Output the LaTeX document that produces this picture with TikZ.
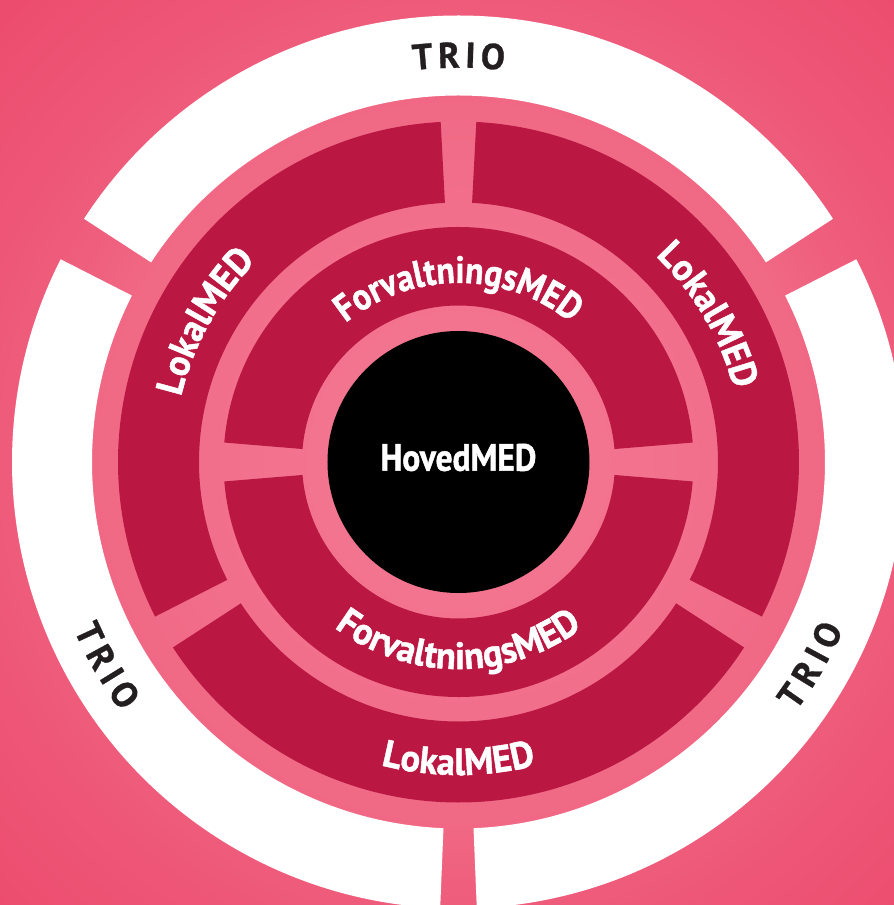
\documentclass[tikz,border=0pt]{standalone}
\usepackage{fontspec}
\newfontfamily\medfont{PT Sans}[FakeStretch=0.88,FakeBold=1.2]
\newfontfamily\lokalfont{PT Sans}[FakeStretch=0.96,FakeBold=1.2]
\newfontfamily\triofont{PT Sans}[FakeBold=0.8]
\usetikzlibrary{decorations.text}
\definecolor{medred}{HTML}{BA1842}
\definecolor{triotext}{HTML}{231F20}
\definecolor{bgA}{HTML}{F3748F}
\definecolor{bgB}{HTML}{F26F8B}
\definecolor{bgC}{HTML}{F06A86}
\definecolor{bgD}{HTML}{EF5F7D}
\definecolor{bgE}{HTML}{EE5677}
\definecolor{bgF}{HTML}{EC4C6E}
\pgfdeclareradialshading{bgshade}{\pgfpoint{0bp}{0bp}}{color(0bp)=(bgA); color(140bp)=(bgA); color(250bp)=(bgB); color(350bp)=(bgC); color(420bp)=(bgD); color(500bp)=(bgE); color(650bp)=(bgF)}
\newcommand{\medstyle}{\medfont\bfseries\fontsize{38}{38}\selectfont}
\newcommand{\lokalstyle}{\lokalfont\bfseries\fontsize{38}{38}\selectfont}
\newcommand{\ringpart}[5]{% style, a1, a2, inner r, outer r
  \fill[#1] (#2:#4pt) arc[start angle=#2, end angle=#3, radius=#4pt] -- (#3:#5pt) arc[start angle=#3, end angle=#2, radius=#5pt] -- cycle;}
\tikzset{
  whiteseg/.style={fill=white},
  redseg/.style={fill=medred},
  medtxt/.style={font=\medstyle, text=white, inner sep=0pt},
  triotxt/.style={font=\triofont\bfseries\fontsize{36}{36}\selectfont, text=triotext, inner sep=0pt},
  curvetxt/.style={decorate, decoration={text along path, text align=center, text color=white, text={|\medstyle|#1}}},
  widecurvetxt/.style={decorate, decoration={text along path, text align=center, text color=white, text={|\lokalstyle|#1}}}
}
\begin{document}
\begin{tikzpicture}[x=1pt,y=1pt]
\useasboundingbox (-458.5pt,-443pt) rectangle (435.5pt,462pt);
\begin{scope}
  \clip (-458.5pt,-443pt) rectangle (435.5pt,462pt);
  \pgfuseshading{bgshade}
\end{scope}
% outer white TRIO ring
\ringpart{whiteseg}{33}{147}{366.5}{446.5}
\ringpart{whiteseg}{153}{267.65}{366.5}{446.5}
\ringpart{whiteseg}{272.35}{387}{366.5}{446.5}
% LokalMED ring
\ringpart{redseg}{93}{207}{259.5}{340.5}
\ringpart{redseg}{213}{327}{259.5}{340.5}
\ringpart{redseg}{333}{447}{259.5}{340.5}
% ForvaltningsMED ring
\ringpart{redseg}{4.75}{175.25}{156.5}{235}
\ringpart{redseg}{184.75}{355.25}{156.5}{235}
% HovedMED
\fill[black] (0,0) circle[radius=131pt];
\node[medtxt] (hoved) at (0pt,4.5pt) {HovedMED};
% curved labels
\path[curvetxt=ForvaltningsMED] (160:179pt) arc[start angle=160, end angle=20, radius=179pt];
\path[widecurvetxt=ForvaltningsMED] (200:207pt) arc[start angle=200, end angle=340, radius=207pt];
\path[widecurvetxt=LokalMED] (191:285pt) arc[start angle=191, end angle=111, radius=285pt];
\path[widecurvetxt=LokalMED] (70.5:285pt) arc[start angle=70.5, end angle=-9.5, radius=285pt];
\path[widecurvetxt=LokalMED] (230:313pt) arc[start angle=230, end angle=310, radius=313pt];
% TRIO labels
\node[triotxt, rotate=5.07] (t1T) at (95.07:407pt) {T};
\node[triotxt, rotate=1.34] (t1R) at (91.34:407pt) {R};
\node[triotxt, rotate=-1.69] (t1I) at (88.31:407pt) {I};
\node[triotxt, rotate=-4.86] (t1O) at (85.14:407pt) {O};
\node[triotxt, rotate=294.93] (t2T) at (204.93:407pt) {T};
\node[triotxt, rotate=298.66] (t2R) at (208.66:407pt) {R};
\node[triotxt, rotate=301.69] (t2I) at (211.69:407pt) {I};
\node[triotxt, rotate=304.86] (t2O) at (214.86:407pt) {O};
\node[triotxt, rotate=54.93] (t3T) at (324.93:407pt) {T};
\node[triotxt, rotate=58.66] (t3R) at (328.66:407pt) {R};
\node[triotxt, rotate=61.69] (t3I) at (331.69:407pt) {I};
\node[triotxt, rotate=64.86] (t3O) at (334.86:407pt) {O};
\end{tikzpicture}
\end{document}
